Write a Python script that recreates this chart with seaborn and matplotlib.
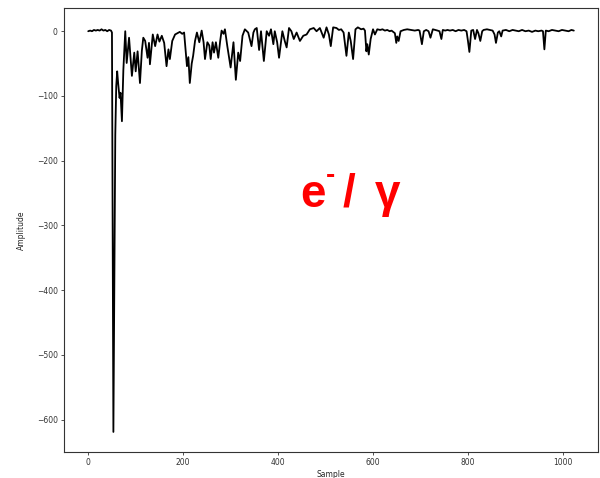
import matplotlib
matplotlib.use("Agg")
import matplotlib.pyplot as plt
import seaborn as sns
import pandas as pd

# waveform (sample index, amplitude)
samples = [0, 4, 8, 12, 16, 20, 24, 28, 32, 36, 40, 44, 48, 50, 51, 53, 55, 57, 59, 61,
           63, 66, 68, 71, 74, 78, 81, 86, 92, 97, 100, 104, 109, 113, 116, 120, 125, 128, 130, 136,
           141, 146, 150, 155, 160, 165, 169, 172, 177, 183, 188, 193, 198, 202, 208, 211, 214, 218, 221, 225,
           229, 234, 239, 243, 246, 251, 255, 258, 262, 265, 269, 274, 278, 281, 285, 288, 293, 300, 306, 311,
           316, 320, 325, 330, 337, 344, 348, 351, 355, 360, 364, 370, 376, 381, 385, 390, 393, 398, 402, 409,
           414, 418, 423, 428, 433, 439, 446, 453, 460, 467, 475, 481, 488, 496, 502, 507, 511, 516, 523, 528,
           533, 538, 544, 549, 553, 558, 563, 568, 575, 580, 583, 586, 588, 591, 595, 600, 604, 609, 615, 620,
           625, 630, 635, 639, 646, 649, 651, 654, 658, 665, 672, 680, 688, 695, 698, 703, 707, 712, 717, 721,
           726, 731, 736, 740, 744, 747, 752, 757, 762, 768, 774, 780, 786, 792, 797, 800, 803, 807, 811, 815,
           819, 822, 826, 830, 833, 840, 846, 852, 856, 859, 863, 866, 870, 873, 880, 887, 894, 900, 907, 914,
           921, 928, 935, 942, 948, 955, 958, 961, 964, 970, 977, 984, 991, 998, 1005, 1012, 1018, 1023]
amplitude = [0, 1, 0, 2, 1, 2, 1, 3, 1, 2, 0, 2, 1, -2, -200, -619, -400, -160, -85, -62,
             -80, -103, -95, -139, -60, 0, -49, -10, -69, -33, -62, -31, -80, -30, -10, -15, -41, -18, -51, -5,
             -23, -5, -16, -7, -18, -54, -28, -43, -15, -5, -3, -1, -4, -2, -54, -40, -80, -50, -38, -15,
             -2, -17, 1, -17, -43, -17, -22, -43, -17, -33, -17, -41, -15, 1, -4, 3, -23, -56, -17, -75,
             -33, -46, -7, 3, -2, -23, -2, 3, 5, -29, 0, -46, 0, -7, 3, -20, 0, -17, -41, 0,
             -15, -25, 5, 0, -12, -2, -15, -7, -5, 3, 5, 0, 5, -10, 6, -5, -23, 6, 5, 2,
             3, -2, -38, -2, -15, -43, 3, 6, 3, 4, 1, -31, -20, -36, -12, 3, -5, 3, 2, 3,
             1, 2, 0, 1, -3, -18, -8, -15, 0, 2, 3, 2, 1, 2, 1, -20, 0, 2, 0, -10,
             3, 2, 1, 0, -12, 2, 1, 2, 1, 2, 0, 2, 1, 2, 0, -15, -32, 1, 2, -12,
             2, -3, -15, 0, 2, 3, 2, 1, -5, -18, -2, 0, -8, 1, 2, 0, 2, 1, 0, 2,
             0, 1, -1, 1, 0, 1, 0, -28, 1, 0, 2, 1, 0, 2, 1, 0, 2, 1]

particle = "e"
charge = "-"
slash = "/"
gamma = "γ"

df = pd.DataFrame({"Sample": samples, "Amplitude": amplitude})

sns.set_style("ticks", {"axes.edgecolor": "0.2"})
plt.rcParams["font.family"] = ["DejaVu Sans"]

fig = plt.figure(figsize=(6, 4.78), dpi=100)
ax = fig.add_axes([0.1067, 0.0544, 0.89, 0.929])

sns.lineplot(data=df, x="Sample", y="Amplitude", color="black", linewidth=1.3, ax=ax)

ax.set_xlim(-51, 1074)
ax.set_ylim(-650, 36)
ax.set_xticks([0, 200, 400, 600, 800, 1000])
ax.set_yticks([0, -100, -200, -300, -400, -500, -600])
ax.tick_params(labelsize=5.5, length=2.5, width=0.6, pad=2, colors="0.2")
ax.set_xlabel("Sample", fontsize=5.5, labelpad=2)
ax.set_ylabel("Amplitude", fontsize=5.5, labelpad=8)
for s in ax.spines.values():
    s.set_linewidth(0.8)
    s.set_visible(True)

fam = ["Liberation Sans Narrow", "Liberation Sans", "DejaVu Sans"]
big = dict(transform=ax.transAxes, va="baseline", color="red", fontsize=33,
           fontweight="bold", family=fam)
ax.text(0.443, 0.552, particle, ha="left", **big)
ax.text(0.490, 0.605, charge, transform=ax.transAxes, ha="left", va="baseline",
        color="red", fontsize=20, fontweight="bold", family=fam)
ax.text(0.522, 0.552, slash, ha="left", **big)
ax.text(0.582, 0.552, gamma, ha="left", **big)

fig.savefig("out.png", dpi=100)
